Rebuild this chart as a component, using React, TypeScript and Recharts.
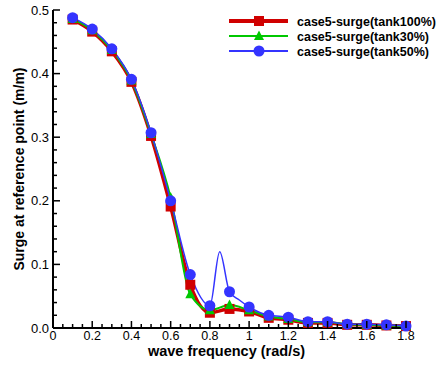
import React from 'react';
import { LineChart, Line, XAxis, YAxis } from 'recharts';

// wave frequencies (rad/s) where the markers sit
const freq = [0.1, 0.2, 0.3, 0.4, 0.5, 0.6, 0.7, 0.8, 0.9, 1.0, 1.1, 1.2, 1.3, 1.4, 1.5, 1.6, 1.7, 1.8];
const tank100 = [0.485, 0.466, 0.435, 0.387, 0.302, 0.191, 0.068, 0.024, 0.03, 0.026, 0.016, 0.013, 0.008, 0.008, 0.005, 0.005, 0.004, 0.003];
const tank30 = [0.486, 0.468, 0.437, 0.389, 0.305, 0.205, 0.053, 0.028, 0.036, 0.028, 0.018, 0.014, 0.009, 0.009, 0.006, 0.005, 0.004, 0.003];
const tank50 = [0.488, 0.47, 0.439, 0.391, 0.307, 0.2, 0.084, 0.035, 0.057, 0.033, 0.02, 0.017, 0.01, 0.01, 0.006, 0.006, 0.005, 0.003];
// extra tank50 points between markers (resonance bump)
const tank50ExtraFreq = [0.85, 0.95];
const tank50Extra = [0.12, 0.044];

const xMajor = [0, 0.2, 0.4, 0.6, 0.8, 1, 1.2, 1.4, 1.6, 1.8];
const yMajor = [0, 0.1, 0.2, 0.3, 0.4, 0.5];
// minor ticks every 0.05 on x, 0.02 on y
const xTicks = Array.from({ length: 37 }, (_, i) => i * 5 / 100);
const yTicks = Array.from({ length: 26 }, (_, i) => i * 2 / 100);

const RED = '#d00000';
const GREEN = '#00c800';
const BLUE = '#3434ff';
const FONT = '"Liberation Sans", Arial, sans-serif';

type Row = { f: number; t100?: number | null; t30?: number | null; t50?: number | null };

const rows: Row[] = [
  ...freq.map((f, i) => ({ f, t100: tank100[i], t30: tank30[i], t50: tank50[i] })),
  ...tank50ExtraFreq.map((f, i) => ({ f, t100: null, t30: null, t50: tank50Extra[i] })),
].sort((a, b) => a.f - b.f);

const isMajor = (v: number, list: number[]) => list.some((m) => Math.abs(m - v) < 1e-6);
const isMarker = (v: number) => freq.some((m) => Math.abs(m - v) < 1e-6);

const XTick = (props: any) => {
  const { x, y, payload } = props;
  const major = isMajor(payload.value, xMajor);
  return (
    <g>
      <line x1={x} x2={x} y1={y} y2={y - (major ? 7 : 4)} stroke="#000" strokeWidth={1.5} />
      {major && (
        <text x={x} y={y + 12} textAnchor="middle" fontSize={12.5} fontFamily={FONT} fill="#000">
          {String(Math.round(payload.value * 10) / 10)}
        </text>
      )}
    </g>
  );
};

const YTick = (props: any) => {
  const { x, y, payload } = props;
  const major = isMajor(payload.value, yMajor);
  return (
    <g>
      <line x1={x} x2={x + (major ? 7 : 4)} y1={y} y2={y} stroke="#000" strokeWidth={1.5} />
      {major && (
        <text x={x - 4} y={y + 4.5} textAnchor="end" fontSize={13} fontFamily={FONT} fill="#000">
          {payload.value.toFixed(1)}
        </text>
      )}
    </g>
  );
};

const squareDot = (p: any) => {
  if (p.cy == null || !isMarker(p.payload.f)) return <g key={p.key} />;
  return <rect key={p.key} x={p.cx - 5} y={p.cy - 5} width={10} height={10} fill={RED} />;
};
const triDot = (p: any) => {
  if (p.cy == null || !isMarker(p.payload.f)) return <g key={p.key} />;
  const { cx, cy } = p;
  return <polygon key={p.key} points={`${cx},${cy - 5.5} ${cx - 5},${cy + 4} ${cx + 5},${cy + 4}`} fill={GREEN} />;
};
const circleDot = (p: any) => {
  if (p.cy == null || !isMarker(p.payload.f)) return <g key={p.key} />;
  return <circle key={p.key} cx={p.cx} cy={p.cy} r={5.5} fill={BLUE} />;
};

const legendItems = [
  { name: 'case5-surge(tank100%)', color: RED, width: 4, marker: 'square' },
  { name: 'case5-surge(tank30%)', color: GREEN, width: 2, marker: 'tri' },
  { name: 'case5-surge(tank50%)', color: BLUE, width: 2, marker: 'circle' },
];

function ChartLegend() {
  return (
    <svg width={215} height={65} style={{ position: 'absolute', left: 225, top: 0 }}>
      {legendItems.map((it, i) => {
        const cy = 21 + i * 15;
        return (
          <g key={it.name}>
            <line x1={4} x2={63} y1={cy} y2={cy} stroke={it.color} strokeWidth={it.width} />
            {it.marker === 'square' && <rect x={29} y={cy - 5} width={10} height={10} fill={it.color} />}
            {it.marker === 'tri' && <polygon points={`34,${cy - 5.5} 29,${cy + 4} 39,${cy + 4}`} fill={it.color} />}
            {it.marker === 'circle' && <circle cx={34} cy={cy} r={5.5} fill={it.color} />}
            <text x={72} y={cy + 4.5} fontSize={12.5} fontWeight="bold" fontFamily={FONT} fill="#000">
              {it.name}
            </text>
          </g>
        );
      })}
    </svg>
  );
}

export default function App() {
  return (
    <div style={{ position: 'absolute', left: 0, top: 0, width: 440, height: 365, background: '#fff' }}>
      <LineChart width={440} height={365} data={rows} margin={{ top: 10, right: 34, left: 0, bottom: 0 }}>
        <XAxis
          dataKey="f"
          type="number"
          domain={[0, 1.8]}
          ticks={xTicks}
          interval={0}
          tick={<XTick />}
          tickLine={false}
          tickSize={0}
          tickMargin={0}
          height={37}
          axisLine={{ stroke: '#000', strokeWidth: 2 }}
          label={{
            content: ({ viewBox }: any) => (
              <text
                x={viewBox.x + viewBox.width / 2 - 3}
                y={viewBox.y + 28}
                textAnchor="middle"
                fontSize={14.5}
                fontWeight="bold"
                fontFamily={FONT}
                fill="#000"
              >
                wave frequency (rad/s)
              </text>
            ),
          }}
        />
        <YAxis
          type="number"
          domain={[0, 0.5]}
          ticks={yTicks}
          interval={0}
          tick={<YTick />}
          tickLine={false}
          tickSize={0}
          tickMargin={0}
          width={53}
          axisLine={{ stroke: '#000', strokeWidth: 2 }}
          label={{
            content: ({ viewBox }: any) => {
              const cx = viewBox.x + 19;
              const cy = viewBox.y + viewBox.height / 2;
              return (
                <text
                  x={cx}
                  y={cy}
                  transform={`rotate(-90, ${cx}, ${cy})`}
                  textAnchor="middle"
                  dominantBaseline="central"
                  fontSize={14}
                  fontWeight="bold"
                  fontFamily={FONT}
                  fill="#000"
                >
                  Surge at reference point (m/m)
                </text>
              );
            },
          }}
        />
        <Line dataKey="t100" type="monotone" stroke={RED} strokeWidth={3.5} dot={squareDot} activeDot={false} connectNulls isAnimationActive={false} />
        <Line dataKey="t30" type="monotone" stroke={GREEN} strokeWidth={2} dot={triDot} activeDot={false} connectNulls isAnimationActive={false} />
        <Line dataKey="t50" type="monotone" stroke={BLUE} strokeWidth={1.5} dot={circleDot} activeDot={false} connectNulls isAnimationActive={false} />
      </LineChart>
      <ChartLegend />
    </div>
  );
}
